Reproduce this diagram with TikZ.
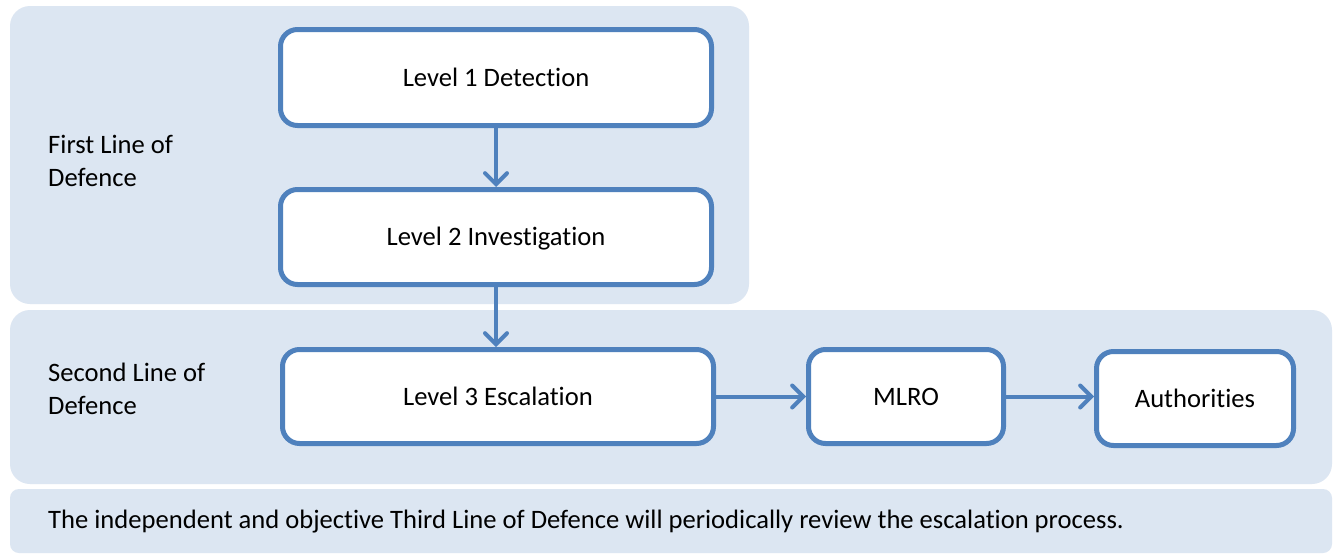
\documentclass[tikz,border=0pt]{standalone}
\usepackage{fontspec}
\setmainfont{Carlito}[Ligatures=NoCommon]
\usetikzlibrary{arrows.meta}
\definecolor{panel}{HTML}{DCE6F2}
\definecolor{edge}{HTML}{4F81BD}
\begin{document}
\begin{tikzpicture}[x=1pt,y=-1pt,
  panelbox/.style={fill=panel,draw=none,rounded corners=20pt},
  stepbox/.style={draw=edge,line width=5pt,fill=white,rounded corners=17pt,inner sep=0pt,
    font=\fontsize{26.6}{33}\selectfont,text=black,text height=17pt,text depth=0pt},
  lbl/.style={anchor=base west,align=left,inner sep=0pt,font=\fontsize{26.6}{33}\selectfont},
  conn/.style={draw=edge,line width=4pt,-{Straight Barb[length=11pt,width=22pt,line width=4pt,line cap=round]}}]
\useasboundingbox (0,0) rectangle (1333,555);
\fill[white] (0,0) rectangle (1333,555);
\path[panelbox] (10,6) rectangle (749,304);
\path[panelbox] (10,310) rectangle (1332,484);
\path[panelbox,rounded corners=9pt] (10,489) rectangle (1332,553);
\node[stepbox,minimum width=431pt,minimum height=96pt] (l1) at (496,77.5) {Level 1 Detection};
\node[stepbox,minimum width=431pt,minimum height=95pt] (l2) at (496,237) {Level 2 Investigation};
\node[stepbox,minimum width=431pt,minimum height=94pt] (l3) at (498,396.5) {Level 3 Escalation};
\node[stepbox,minimum width=195pt,minimum height=94pt] (mlro) at (906,396.5) {MLRO};
\node[stepbox,minimum width=197pt,minimum height=94pt] (auth) at (1195,398.5) {Authorities};
\node[lbl] (first) at (48,186) {First Line of\\Defence};
\node[lbl] (second) at (48,414) {Second Line of\\Defence};
\node[lbl] (third) at (48,528) {The independent and objective Third Line of Defence will periodically review the escalation process.};
\draw[conn] (l1.south) -- (l2.north);
\draw[conn] (l2.south) -- ([xshift=-2pt]l3.north);
\draw[conn] (l3.east) -- (mlro.west |- l3.east);
\draw[conn] (mlro.east) -- (auth.west |- mlro.east);
\end{tikzpicture}
\end{document}
